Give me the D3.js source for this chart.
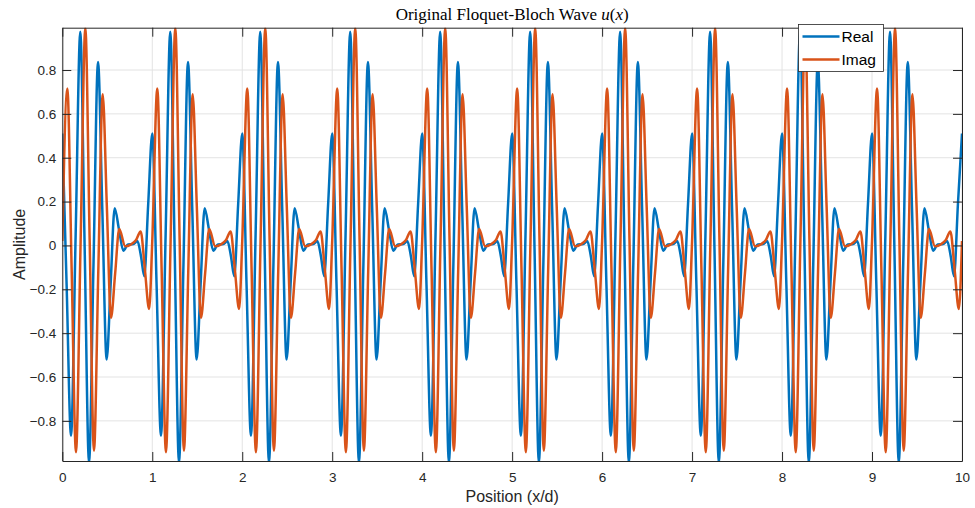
<!DOCTYPE html>
<html>
<head>
<meta charset="utf-8">
<script src="https://cdn.jsdelivr.net/npm/d3@7"></script>
<style>
  body { margin: 0; background: #fff; }
  svg { display: block; }
  .tick text { font-family: "Liberation Sans", Arial, sans-serif; font-size: 13.5px; fill: #262626; }
</style>
</head>
<body>
<svg width="975" height="508"></svg>
<script>
// one unit cell of the wave (x in cell units)
const cellX    = [0, 0.048, 0.097, 0.1485, 0.2, 0.2485, 0.297, 0.347, 0.397, 0.445, 0.493, 0.5375, 0.582, 0.63, 0.678, 0.73, 0.79, 0.835, 0.875, 0.911, 0.955]
const realVals = [0.51, -0.18, -0.868, 0.05, 0.974, -0.01, -0.99, -0.08, 0.837, 0.16, -0.52, -0.175, 0.17, 0.073, -0.024, 0.004, 0.006, 0.02, -0.05, -0.14, 0.19]

const cellXi   = [0, 0.056, 0.104, 0.152, 0.204, 0.256, 0.304, 0.352, 0.4, 0.449, 0.495, 0.541, 0.587, 0.633, 0.7, 0.76, 0.82, 0.871, 0.918, 0.965]
const imagVals = [0.02, 0.716, -0.11, -0.943, 0.025, 0.992, 0.028, -0.936, -0.12, 0.69, 0.18, -0.33, -0.13, 0.075, -0.004, 0.004, 0.025, 0.064, -0.11, -0.29]

const nCells = 10
const xTicks = d3.range(0, 11)
const yTicks = [-0.8, -0.6, -0.4, -0.2, 0, 0.2, 0.4, 0.6, 0.8]
const seriesNames = ['Real', 'Imag']
const colors = ['#0072BD', '#D95319']

// repeat the cell across the 10 periods
const tile = (xs, vs) => {
  const out = []
  for (let p = 0; p < nCells; p++) {
    xs.forEach((x, i) => out.push([p + x, vs[i]]))
  }
  out.push([nCells, vs[0]])
  return out
}
const realData = tile(cellX, realVals)
const imagData = tile(cellXi, imagVals)

const svg = d3.select('svg')
const m = { left: 62.3, right: 962, top: 27.7, bottom: 461 }

const x = d3.scaleLinear().domain([0, 10]).range([m.left, m.right])
const y = d3.scaleLinear().domain([-0.983, 0.993]).range([m.bottom, m.top])

// grid
const grid = svg.append('g').attr('stroke', '#e3e3e3').attr('stroke-width', 1)
grid.selectAll('.gx').data(xTicks).enter().append('line')
  .attr('x1', d => x(d)).attr('x2', d => x(d))
  .attr('y1', m.top).attr('y2', m.bottom)
grid.selectAll('.gy').data(yTicks).enter().append('line')
  .attr('x1', m.left).attr('x2', m.right)
  .attr('y1', d => y(d)).attr('y2', d => y(d))

// lines
svg.append('defs').append('clipPath').attr('id', 'clip')
  .append('rect').attr('x', m.left).attr('y', m.top)
  .attr('width', m.right - m.left).attr('height', m.bottom - m.top)

const line = d3.line().x(d => x(d[0])).y(d => y(d[1])).curve(d3.curveMonotoneX)

const plot = svg.append('g').attr('clip-path', 'url(#clip)')
;[realData, imagData].forEach((data, i) => {
  plot.append('path')
    .attr('d', line(data))
    .attr('fill', 'none')
    .attr('stroke', colors[i])
    .attr('stroke-width', 2.5)
    .attr('stroke-linejoin', 'round')
})

// axes (ticks inward, box on)
const fmt = d => d === 0 ? '0' : d3.format('.1f')(d)

const styleAxis = g => {
  g.selectAll('.domain').attr('stroke', '#262626')
  g.selectAll('.tick line').attr('stroke', '#262626')
}

svg.append('g').attr('transform', `translate(0,${m.bottom})`)
  .call(d3.axisBottom(x).tickValues(xTicks).tickSize(-9).tickSizeOuter(0).tickPadding(11).tickFormat(d3.format('d')))
  .call(styleAxis)
svg.append('g').attr('transform', `translate(0,${m.top})`)
  .call(d3.axisTop(x).tickValues(xTicks).tickSize(-9).tickSizeOuter(0).tickFormat(''))
  .call(styleAxis)
svg.append('g').attr('transform', `translate(${m.left},0)`)
  .call(d3.axisLeft(y).tickValues(yTicks).tickSize(-9).tickSizeOuter(0).tickPadding(6).tickFormat(fmt))
  .call(styleAxis)
svg.append('g').attr('transform', `translate(${m.right},0)`)
  .call(d3.axisRight(y).tickValues(yTicks).tickSize(-9).tickSizeOuter(0).tickFormat(''))
  .call(styleAxis)

// labels
svg.append('text')
  .attr('x', (m.left + m.right) / 2).attr('y', 502)
  .attr('text-anchor', 'middle')
  .attr('font-family', '"Liberation Sans", Arial, sans-serif')
  .attr('font-size', 16).attr('fill', '#262626')
  .text('Position (x/d)')

svg.append('text')
  .attr('transform', `translate(25,${(m.top + m.bottom) / 2}) rotate(-90)`)
  .attr('text-anchor', 'middle')
  .attr('font-family', '"Liberation Sans", Arial, sans-serif')
  .attr('font-size', 16).attr('fill', '#262626')
  .text('Amplitude')

const title = svg.append('text')
  .attr('x', (m.left + m.right) / 2).attr('y', 20)
  .attr('text-anchor', 'middle')
  .attr('font-family', '"Liberation Serif", "DejaVu Serif", serif')
  .attr('font-size', 17).attr('fill', '#000')
title.append('tspan').text('Original Floquet-Bloch Wave ')
title.append('tspan').attr('font-style', 'italic').text('u')
title.append('tspan').text('(')
title.append('tspan').attr('font-style', 'italic').text('x')
title.append('tspan').text(')')

// legend
const leg = svg.append('g').attr('transform', 'translate(798.5,24.5)')
leg.append('rect').attr('width', 85).attr('height', 47)
  .attr('fill', '#fff').attr('stroke', '#262626').attr('stroke-width', 0.8)
seriesNames.forEach((name, i) => {
  const yy = 12 + i * 23
  leg.append('line').attr('x1', 4).attr('x2', 41).attr('y1', yy).attr('y2', yy)
    .attr('stroke', colors[i]).attr('stroke-width', 2.5)
  leg.append('text').attr('x', 43).attr('y', yy + 5.5)
    .attr('font-family', '"Liberation Sans", Arial, sans-serif')
    .attr('font-size', 15.5).attr('fill', '#000')
    .text(name)
})
</script>
</body>
</html>
